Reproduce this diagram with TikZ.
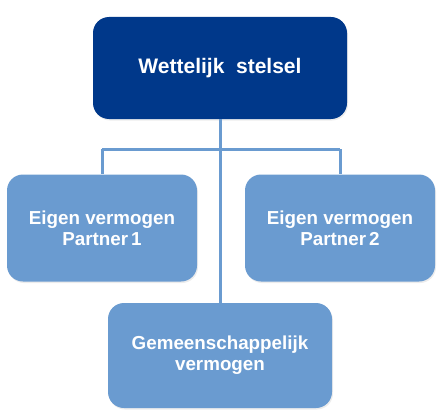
\documentclass[tikz,border=0pt]{standalone}
\usepackage{fontspec}
\setmainfont{Liberation Sans}
\usetikzlibrary{shadows}
\definecolor{navy}{RGB}{0,56,138}
\definecolor{lightblue}{RGB}{106,155,208}
\begin{document}
\begin{tikzpicture}[x=1pt,y=-1pt,
  box/.style={rounded corners=16pt, fill=lightblue, text=white, align=center,
    inner sep=0pt, font=\bfseries\fontsize{18.8}{21}\selectfont,
    drop shadow={opacity=0.15, shadow xshift=1pt, shadow yshift=-1.5pt}},
  link/.style={draw=lightblue, line width=3pt}]
\useasboundingbox (0,0) rectangle (443,417);   % page size of the reference
\node[box, fill=navy, minimum width=254pt, minimum height=102pt,
  font=\bfseries\fontsize{21}{24}\selectfont] (stelsel) at (220,68) {Wettelijk~ stelsel};
\node[box, minimum width=190pt, minimum height=107pt] (partnerA) at (102,228) {Eigen vermogen\\Partner\,1};
\node[box, minimum width=190pt, minimum height=107pt] (partnerB) at (340,228) {Eigen vermogen\\Partner\,2};
\node[box, minimum width=224pt, minimum height=105pt] (gemeen) at (220,355.5) {Gemeenschappelijk\\vermogen};
\coordinate (hub) at (220,149);                % branching point
\draw[link] (stelsel) -- (gemeen);
\draw[link] (partnerA |- hub) -- (partnerB |- hub);
\draw[link] (partnerA |- hub) -- (partnerA.north);
\draw[link] (partnerB |- hub) -- (partnerB.north);
\end{tikzpicture}
\end{document}
